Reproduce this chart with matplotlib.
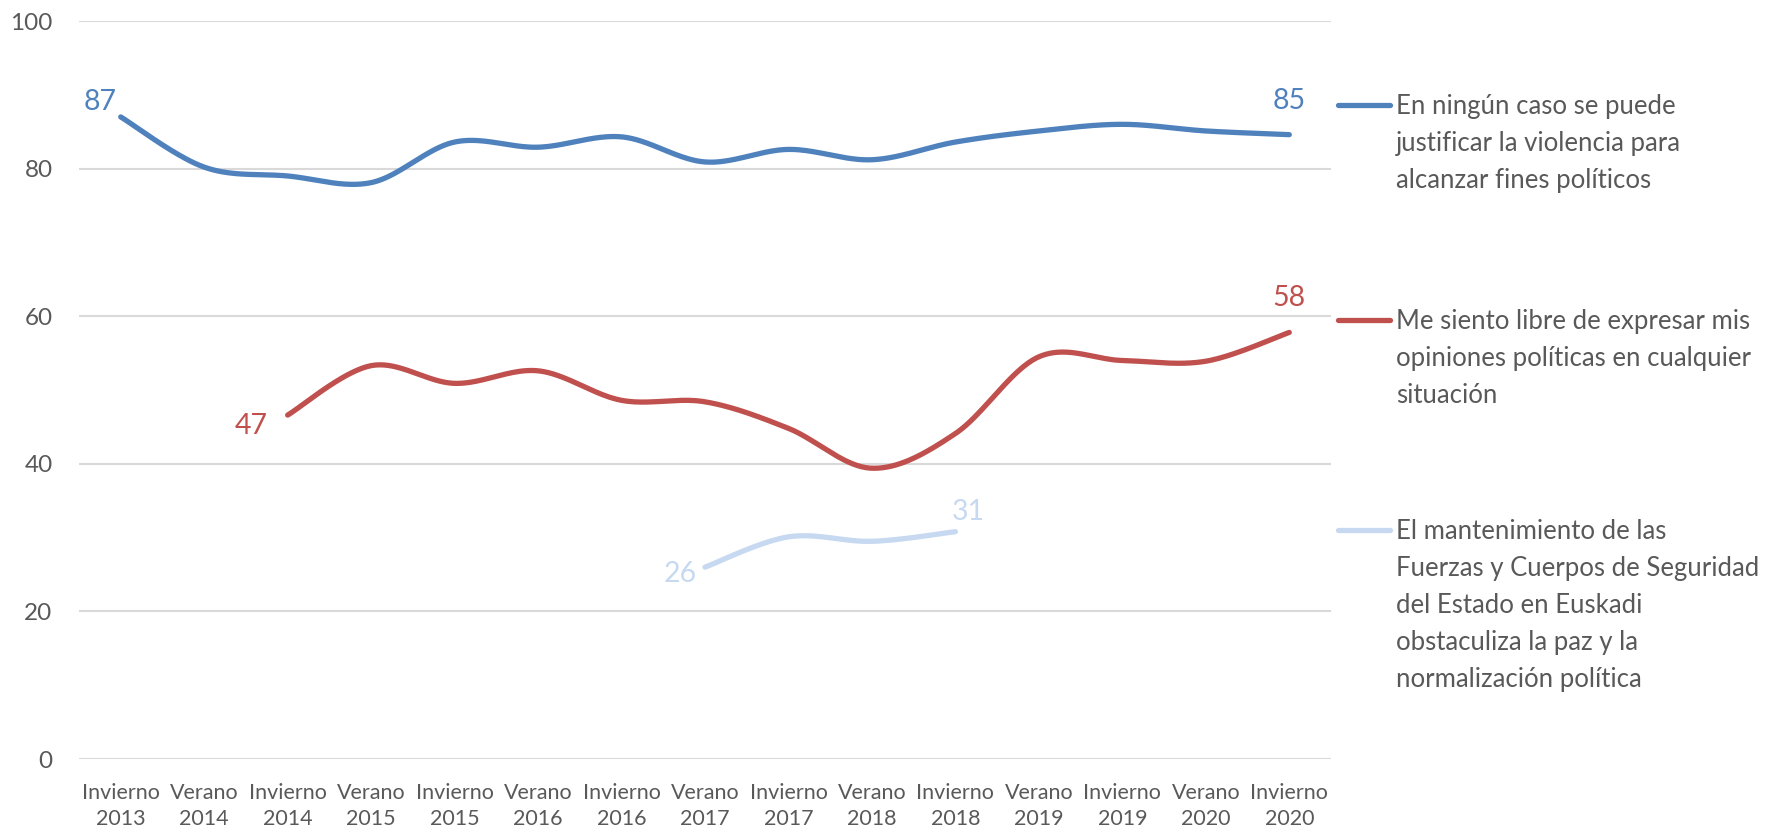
"""
Line chart of three opinion series, Excel-style smoothed lines.
"""

import numpy as np
import matplotlib
matplotlib.use("Agg")
import matplotlib.pyplot as plt
from matplotlib.lines import Line2D

plt.rcParams['font.family'] = ['Lato', 'DejaVu Sans']

categories = ["Invierno\n2013", "Verano\n2014", "Invierno\n2014", "Verano\n2015",
              "Invierno\n2015", "Verano\n2016", "Invierno\n2016", "Verano\n2017",
              "Invierno\n2017", "Verano\n2018", "Invierno\n2018", "Verano\n2019",
              "Invierno\n2019", "Verano\n2020", "Invierno\n2020"]

nan = np.nan
violencia = [87, 80.2, 79.0, 78.1, 83.6, 82.9, 84.3, 80.9, 82.6, 81.2,
             83.6, 85.1, 86.0, 85.1, 84.6]
libre = [nan, nan, 46.6, 53.3, 50.9, 52.6, 48.6, 48.4, 44.8, 39.4,
         44.1, 54.5, 54.0, 53.9, 57.8]
fuerzas = [nan, nan, nan, nan, nan, nan, nan, 26.0, 30.1, 29.5,
           30.8, nan, nan, nan, nan]

labels = ["En ningún caso se puede\njustificar la violencia para\nalcanzar fines políticos",
          "Me siento libre de expresar mis\nopiniones políticas en cualquier\nsituación",
          "El mantenimiento de las\nFuerzas y Cuerpos de Seguridad\ndel Estado en Euskadi\n"
          "obstaculiza la paz y la\nnormalización política"]

colors = ["#4F81BD", "#C0504D", "#C6D9F1"]
grey = "#595959"


def smooth(xs, ys, steps=40):
    # bezier through the points, control points like a catmull-rom spline
    px = np.concatenate([[xs[0]], xs, [xs[-1]]]).astype(float)
    py = np.concatenate([[ys[0]], ys, [ys[-1]]]).astype(float)
    t = np.linspace(0, 1, steps)
    out_x, out_y = [], []
    for i in range(1, len(px) - 2):
        c1x = px[i] + (px[i + 1] - px[i - 1]) / 6
        c1y = py[i] + (py[i + 1] - py[i - 1]) / 6
        c2x = px[i + 1] - (px[i + 2] - px[i]) / 6
        c2y = py[i + 1] - (py[i + 2] - py[i]) / 6
        a, b, c, d = (1 - t) ** 3, 3 * (1 - t) ** 2 * t, 3 * (1 - t) * t ** 2, t ** 3
        out_x.append(a * px[i] + b * c1x + c * c2x + d * px[i + 1])
        out_y.append(a * py[i] + b * c1y + c * c2y + d * py[i + 1])
    return np.concatenate(out_x), np.concatenate(out_y)


fig = plt.figure(figsize=(17.75, 8.3), dpi=100)
ax = fig.add_axes([79 / 1775, 1 - 759 / 830, 1252 / 1775, 738 / 830])

x = np.arange(len(categories))
series = [violencia, libre, fuerzas]
for vals, col in zip(series, colors):
    v = np.array(vals, float)
    ok = ~np.isnan(v)
    sx, sy = smooth(x[ok], v[ok])
    ax.plot(sx, sy, color=col, lw=3.8, solid_capstyle='round', zorder=3)

# data labels at the ends (offsets in points)
def end_label(i, v, col, dx, dy):
    ax.annotate(f"{v:.0f}", (i, v), xytext=(dx, dy), textcoords='offset points',
                ha='center', va='center', color=col, fontsize=20.5)

end_label(0, violencia[0], colors[0], -15, 11)
end_label(14, violencia[14], colors[0], 0, 24)
end_label(2, libre[2], colors[1], -26, -8)
end_label(14, libre[14], colors[1], 0, 25)
end_label(7, fuerzas[7], colors[2], -18, -5)
end_label(10, fuerzas[10], colors[2], 9, 14)

ax.set_xlim(-0.5, 14.5)
ax.set_ylim(0, 100)
ax.set_yticks(range(0, 101, 20))
ax.set_xticks(x)
ax.set_xticklabels(categories, linespacing=1.4)
ax.tick_params(axis='x', length=0, pad=17, labelsize=15.5, colors=grey)
ax.tick_params(axis='y', length=0, pad=19, labelsize=17.5, colors=grey)
ax.grid(axis='y', color='#D9D9D9', lw=1.5)
ax.set_axisbelow(True)
for s in ax.spines.values():
    s.set_visible(False)

# legend drawn by hand to get Excel's spacing
legend_y = [105, 320, 530]
for lab, col, ly in zip(labels, colors, legend_y):
    yf = 1 - ly / 830
    fig.add_artist(Line2D([1338 / 1775, 1390 / 1775], [yf, yf], color=col, lw=3.8,
                          solid_capstyle='round', transform=fig.transFigure))
    fig.text(1396 / 1775, 1 - (ly - 11) / 830, lab, ha='left', va='top', color=grey,
             fontsize=18.5, linespacing=1.6)

plt.savefig("out.png", dpi=100)
